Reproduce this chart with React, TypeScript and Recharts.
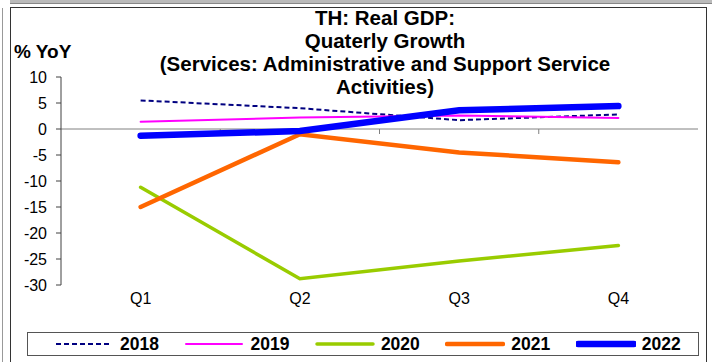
import React from 'react';
import { LineChart, Line, XAxis, YAxis, ReferenceLine, Legend } from 'recharts';

const quarters = ['Q1', 'Q2', 'Q3', 'Q4'];
const s2018 = [5.5, 4.0, 1.7, 2.8];
const s2019 = [1.4, 2.2, 2.6, 2.1];
const s2020 = [-11.2, -28.8, -25.4, -22.4];
const s2021 = [-15.0, -1.0, -4.5, -6.4];
const s2022 = [-1.3, -0.4, 3.6, 4.4];
const yTicks = [10, 5, 0, -5, -10, -15, -20, -25, -30];
const titleLines = [
  'TH: Real GDP:',
  'Quaterly Growth',
  '(Services: Administrative and Support Service',
  'Activities)',
];

const series = [
  { key: '2018', values: s2018, color: '#000080', width: 2, dash: '5 3' },
  { key: '2019', values: s2019, color: '#FF00FF', width: 2, dash: undefined },
  { key: '2020', values: s2020, color: '#99CC00', width: 3.5, dash: undefined },
  { key: '2021', values: s2021, color: '#FF6600', width: 4.5, dash: undefined },
  { key: '2022', values: s2022, color: '#0000FF', width: 6.5, dash: undefined },
];

const data = quarters.map((q, i) => {
  const row: any = { q };
  series.forEach((s) => {
    row[s.key] = s.values[i];
  });
  return row;
});

const FONT = '"Liberation Sans", Arial, sans-serif';

const ZeroLine = (props: any) => {
  const { x1, y1, x2, y2 } = props;
  const n = quarters.length;
  const ticks = [];
  for (let i = 1; i < n; i++) {
    const x = x1 + ((x2 - x1) * i) / n;
    ticks.push(<line key={i} x1={x} x2={x} y1={y1} y2={y1 + 5} stroke="#808080" strokeWidth={1} />);
  }
  return (
    <g>
      <line x1={x1} y1={y1} x2={x2} y2={y2} stroke="#808080" strokeWidth={1} />
      {ticks}
    </g>
  );
};

const LegendContent = () => (
  <div
    style={{
      boxSizing: 'border-box',
      width: '100%',
      height: '100%',
      border: '1.5px solid #555',
      display: 'flex',
      alignItems: 'center',
      paddingLeft: 26,
      fontFamily: FONT,
      fontWeight: 'bold',
      fontSize: 17.5,
      color: '#000',
    }}
  >
    {series.map((s) => (
      <div key={s.key} style={{ display: 'flex', alignItems: 'center', marginRight: 25.5 }}>
        <svg width={60} height={10} style={{ marginRight: 6 }}>
          <line
            x1={2}
            x2={58}
            y1={5}
            y2={5}
            stroke={s.color}
            strokeWidth={s.width}
            strokeDasharray={s.dash}
            strokeLinecap={s.dash ? 'butt' : 'round'}
          />
        </svg>
        <span>{s.key}</span>
      </div>
    ))}
  </div>
);

export default function App() {
  return (
    <div style={{ position: 'absolute', left: 0, top: 0, width: 712, height: 362, background: '#fff', overflow: 'hidden' }}>
      <div style={{ position: 'absolute', left: 10, top: 0, width: 702, height: 3, background: '#bbb', borderBottom: '1px solid #888' }} />
      <div style={{ position: 'absolute', left: 2, top: 8, width: 1, height: 354, background: '#999' }} />
      <div style={{ position: 'absolute', left: 10, top: 7, width: 697, height: 370, border: '1px solid #333', boxSizing: 'border-box' }} />
      <div
        style={{
          position: 'absolute',
          left: 85,
          width: 600,
          top: 6,
          textAlign: 'center',
          fontFamily: FONT,
          fontWeight: 'bold',
          fontSize: 20.5,
          lineHeight: '23px',
          color: '#000',
        }}
      >
        {titleLines.map((t) => (
          <div key={t}>{t}</div>
        ))}
      </div>
      <div
        style={{
          position: 'absolute',
          left: 14,
          top: 41,
          fontFamily: FONT,
          fontWeight: 'bold',
          fontSize: 19,
          color: '#000',
        }}
      >
        % YoY
      </div>
      <div style={{ position: 'absolute', left: 0, top: 0 }}>
        <LineChart width={712} height={362} data={data} margin={{ top: 77, right: 14, left: 1, bottom: 23 }}>
          <XAxis
            dataKey="q"
            scale="band"
            axisLine={false}
            tickLine={false}
            height={30}
            tick={{ fontFamily: FONT, fontSize: 16, fill: '#000' }}
          />
          <YAxis
            domain={[-30, 10]}
            ticks={yTicks}
            width={60}
            interval={0}
            axisLine={{ stroke: '#404040', strokeWidth: 1 }}
            tickLine={{ stroke: '#404040', strokeWidth: 1 }}
            tickSize={5}
            tickMargin={9}
            tick={{ fontFamily: FONT, fontSize: 16, fill: '#000' }}
          />
          <ReferenceLine y={0} shape={<ZeroLine />} />
          {series.map((s) => (
            <Line
              key={s.key}
              dataKey={s.key}
              name={s.key}
              stroke={s.color}
              strokeWidth={s.width}
              strokeDasharray={s.dash}
              strokeLinecap={s.dash ? 'butt' : 'round'}
              dot={false}
              activeDot={false}
              isAnimationActive={false}
            />
          ))}
          <Legend
            verticalAlign="bottom"
            content={<LegendContent />}
            wrapperStyle={{ position: 'absolute', left: 27, top: 332, width: 672, height: 24 }}
          />
        </LineChart>
      </div>
    </div>
  );
}
